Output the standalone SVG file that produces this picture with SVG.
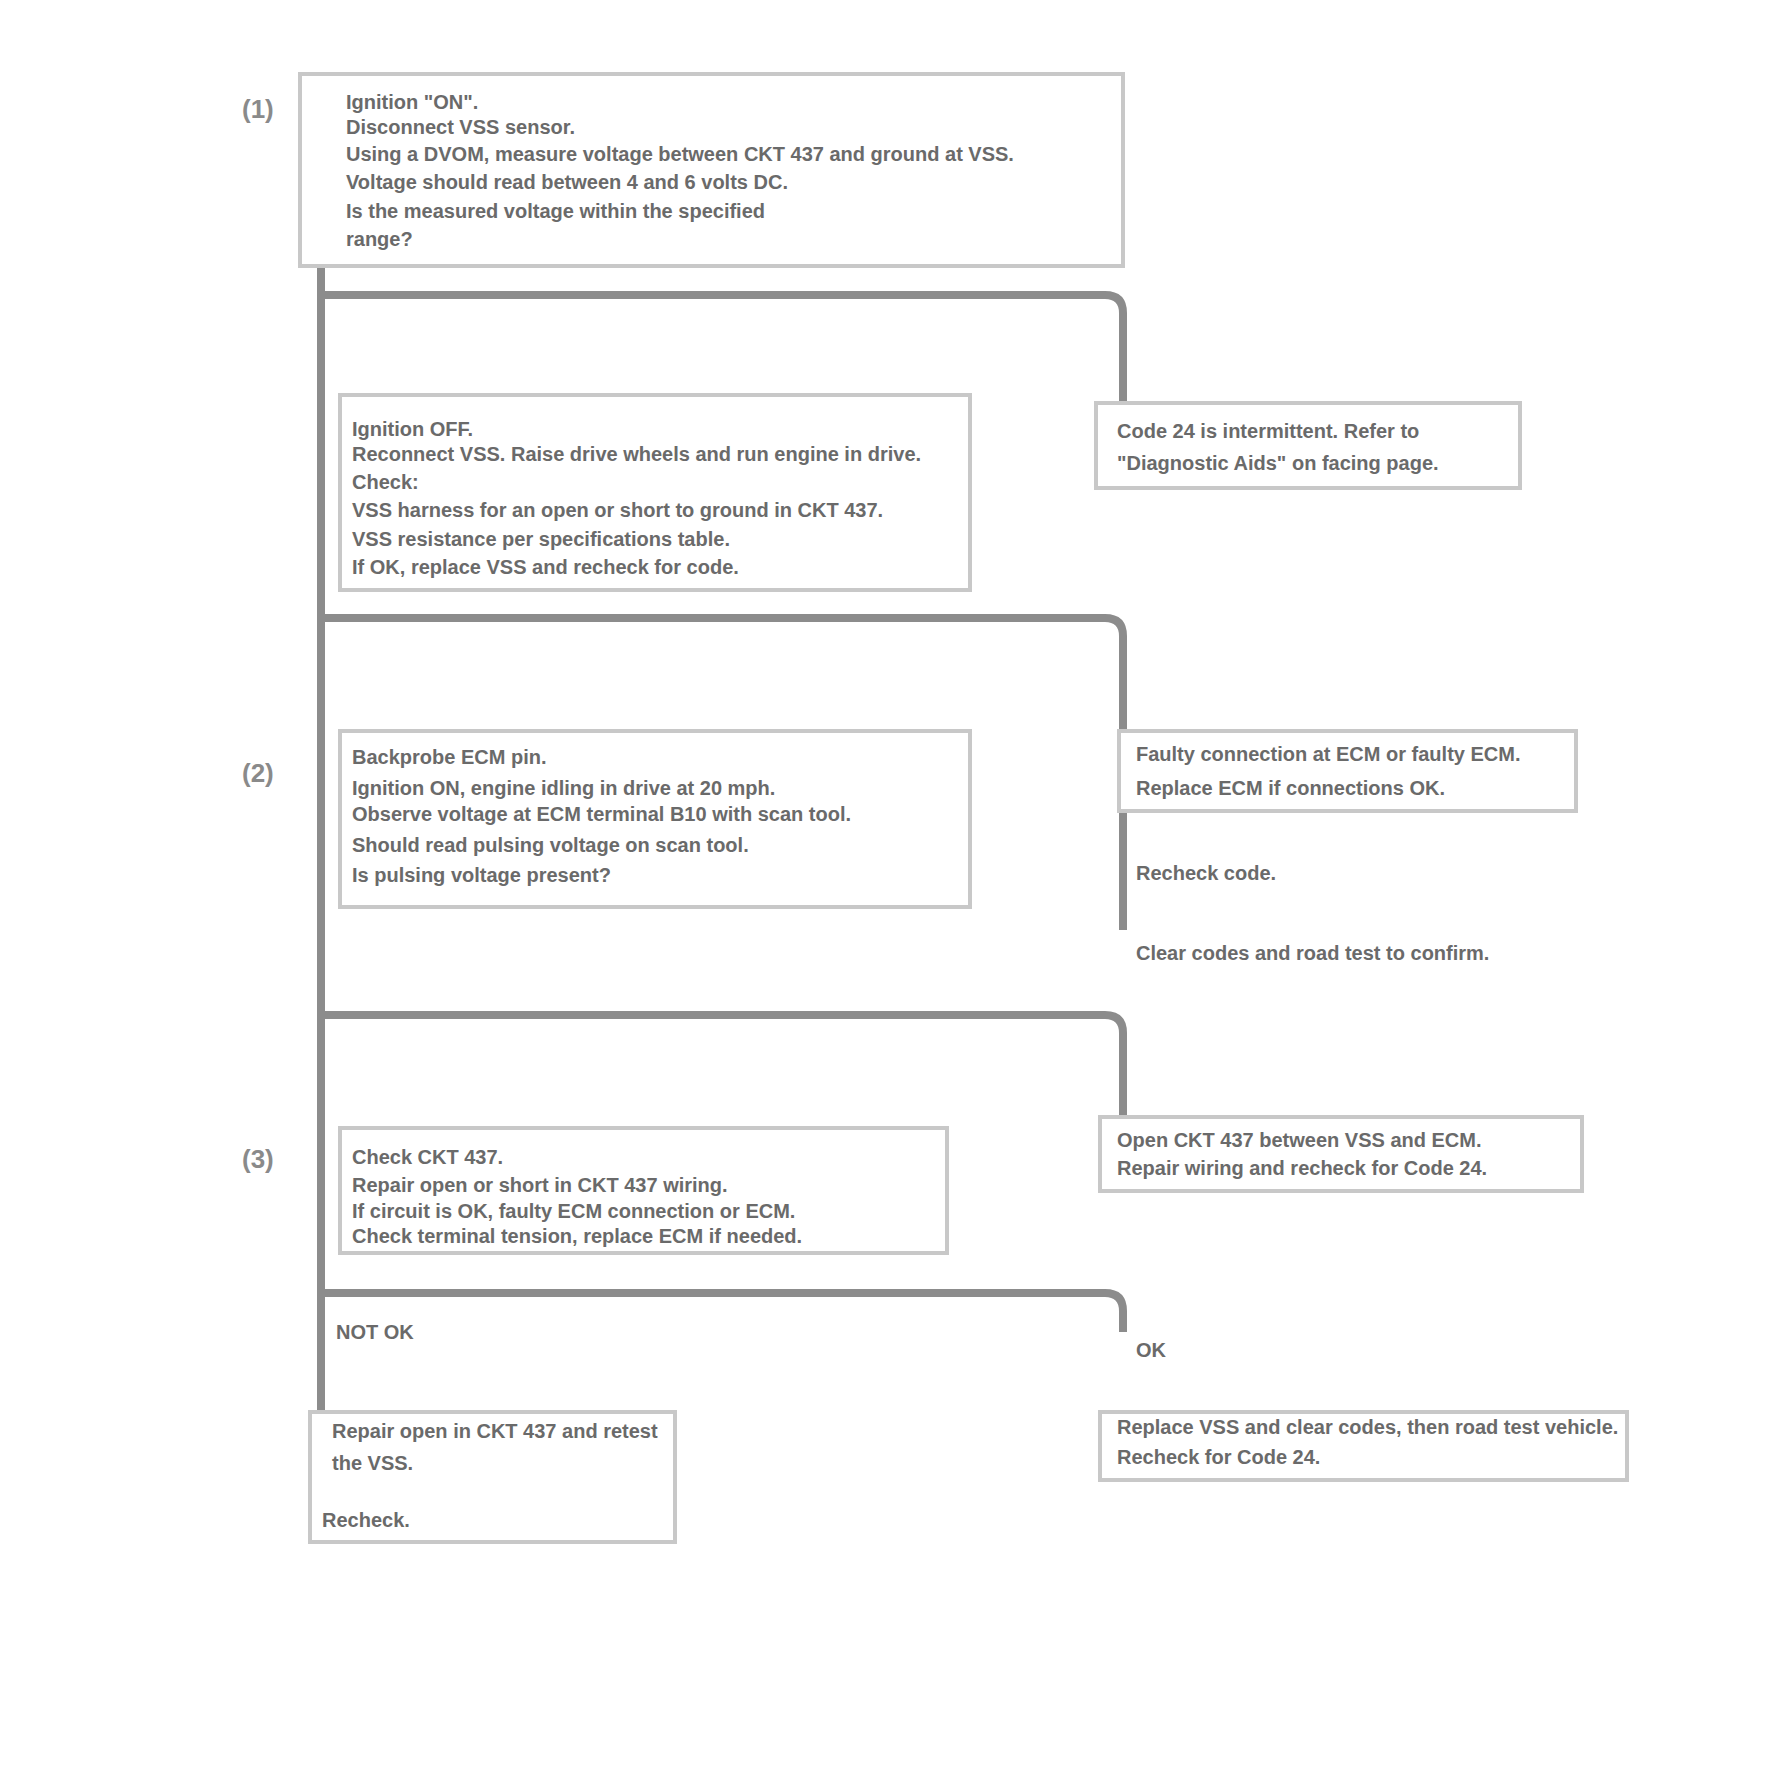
<svg xmlns="http://www.w3.org/2000/svg" width="1776" height="1781" viewBox="0 0 1776 1781">
<defs>
<style>
.box{fill:none;stroke:#c8c8c8;stroke-width:4}
.bar{fill:none;stroke:#8c8c8c;stroke-width:8;stroke-linejoin:round}
.t{font-family:"Liberation Sans",Arial,sans-serif;font-size:20px;font-weight:bold;fill:#6a6a6a}
.s{font-family:"Liberation Sans",Arial,sans-serif;font-size:26px;font-weight:bold;fill:#8a8a8a}
</style>
</defs>
<rect width="1776" height="1781" fill="#ffffff"/>
<g id="connectors">
<path class="bar" d="M321 266 V1410"/>
<path class="bar" d="M321 295 H1105 Q1123 295 1123 313 V401"/>
<path class="bar" d="M321 618 H1105 Q1123 618 1123 636 V729"/>
<path class="bar" d="M1123 811 V930"/>
<path class="bar" d="M321 1015 H1105 Q1123 1015 1123 1033 V1115"/>
<path class="bar" d="M321 1293 H1105 Q1123 1293 1123 1311 V1332"/>
</g>
<g id="step1">
<text class="s" x="242" y="118">(1)</text>
<rect class="box" x="300" y="74" width="823" height="192"/>
<text class="t" x="346" y="109">Ignition "ON".</text>
<text class="t" x="346" y="134">Disconnect VSS sensor.</text>
<text class="t" x="346" y="161">Using a DVOM, measure voltage between CKT 437 and ground at VSS.</text>
<text class="t" x="346" y="189">Voltage should read between 4 and 6 volts DC.</text>
<text class="t" x="346" y="218">Is the measured voltage within the specified</text>
<text class="t" x="346" y="246">range?</text>
</g>
<g id="result1">
<rect class="box" x="1096" y="403" width="424" height="85"/>
<text class="t" x="1117" y="438">Code 24 is intermittent. Refer to</text>
<text class="t" x="1117" y="470">"Diagnostic Aids" on facing page.</text>
</g>
<g id="step2">
<rect class="box" x="340" y="395" width="630" height="195"/>
<text class="t" x="352" y="436">Ignition OFF.</text>
<text class="t" x="352" y="461">Reconnect VSS. Raise drive wheels and run engine in drive.</text>
<text class="t" x="352" y="489">Check:</text>
<text class="t" x="352" y="517">VSS harness for an open or short to ground in CKT 437.</text>
<text class="t" x="352" y="546">VSS resistance per specifications table.</text>
<text class="t" x="352" y="574">If OK, replace VSS and recheck for code.</text>
</g>
<g id="result2">
<rect class="box" x="1119" y="731" width="457" height="80"/>
<text class="t" x="1136" y="761">Faulty connection at ECM or faulty ECM.</text>
<text class="t" x="1136" y="795">Replace ECM if connections OK.</text>
<text class="t" x="1136" y="880">Recheck code.</text>
<text class="t" x="1136" y="960">Clear codes and road test to confirm.</text>
</g>
<g id="step3">
<text class="s" x="242" y="782">(2)</text>
<rect class="box" x="340" y="731" width="630" height="176"/>
<text class="t" x="352" y="764">Backprobe ECM pin.</text>
<text class="t" x="352" y="795">Ignition ON, engine idling in drive at 20 mph.</text>
<text class="t" x="352" y="821">Observe voltage at ECM terminal B10 with scan tool.</text>
<text class="t" x="352" y="852">Should read pulsing voltage on scan tool.</text>
<text class="t" x="352" y="882">Is pulsing voltage present?</text>
</g>
<g id="result3">
<rect class="box" x="1100" y="1117" width="482" height="74"/>
<text class="t" x="1117" y="1147">Open CKT 437 between VSS and ECM.</text>
<text class="t" x="1117" y="1175">Repair wiring and recheck for Code 24.</text>
</g>
<g id="step4">
<text class="s" x="242" y="1168">(3)</text>
<rect class="box" x="340" y="1128" width="607" height="125"/>
<text class="t" x="352" y="1164">Check CKT 437.</text>
<text class="t" x="352" y="1192">Repair open or short in CKT 437 wiring.</text>
<text class="t" x="352" y="1218">If circuit is OK, faulty ECM connection or ECM.</text>
<text class="t" x="352" y="1243">Check terminal tension, replace ECM if needed.</text>
</g>
<g id="final-left">
<text class="t" x="336" y="1339">NOT OK</text>
<rect class="box" x="310" y="1412" width="365" height="130"/>
<text class="t" x="332" y="1438">Repair open in CKT 437 and retest</text>
<text class="t" x="332" y="1470">the VSS.</text>
<text class="t" x="322" y="1527">Recheck.</text>
</g>
<g id="final-right">
<text class="t" x="1136" y="1357">OK</text>
<rect class="box" x="1100" y="1412" width="527" height="68"/>
<text class="t" x="1117" y="1434">Replace VSS and clear codes, then road test vehicle.</text>
<text class="t" x="1117" y="1464">Recheck for Code 24.</text>
</g>
</svg>
